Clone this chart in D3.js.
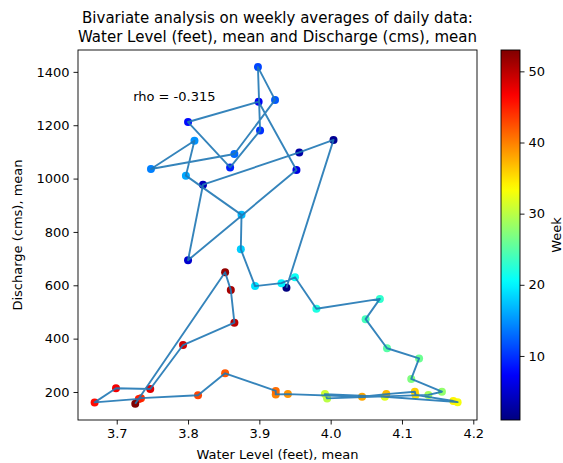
<!DOCTYPE html>
<html>
<head>
<meta charset="utf-8">
<script src="https://cdn.jsdelivr.net/npm/d3@7"></script>
<style>
  body { margin: 0; background: #fff; }
  text { font-family: "DejaVu Sans", sans-serif; fill: #000; }
</style>
</head>
<body>
<div id="chart"></div>
<script>
// weekly averages, week 1..53
const weeks = d3.range(1, 54);
const waterLevel = [
  3.938, 4.004, 3.956, 3.821, 3.800, 3.952, 3.899, 3.800, 3.859, 3.901,
  3.898, 3.922, 3.865, 3.748, 3.809, 3.797, 3.875, 3.874, 3.894, 3.931,
  3.950, 3.980, 4.069, 4.049, 4.079, 4.124, 4.113, 4.156, 4.137, 3.995,
  3.992, 4.076, 4.178, 4.172, 4.119, 4.118, 4.078, 4.044, 3.940, 3.923,
  3.923, 3.852, 3.814, 3.734, 3.731, 3.669, 3.699, 3.747, 3.793, 3.865,
  3.860, 3.852, 3.726
];
const discharge = [
  591, 1145, 1098, 977, 694, 1032, 1288, 1212, 1042, 1180,
  1418, 1295, 1092, 1036, 1142, 1011, 864, 735, 597, 608,
  630, 512, 549, 473, 364, 326, 249, 201, 189, 176,
  192, 182, 162, 166, 189, 201, 192, 182, 192, 191,
  204, 270, 188, 177, 174, 161, 214, 211, 376, 460,
  582, 649, 156
];
const xTicks = [3.7, 3.8, 3.9, 4.0, 4.1, 4.2];
const yTicks = [200, 400, 600, 800, 1000, 1200, 1400];
const weekTicks = [10, 20, 30, 40, 50];
const rhoLabel = "rho = -0.315";

const width = 563, height = 463;
const margin = { top: 50, right: 86, bottom: 43, left: 78 };
const plotW = width - margin.left - margin.right,
  plotH = height - margin.top - margin.bottom;
const fs = "13px";

// matplotlib jet colormap
function jet(t) {
  const clip = v => Math.max(0, Math.min(1, v));
  const r = clip(1.5 - Math.abs(4 * t - 3));
  const g = clip(1.5 - Math.abs(4 * t - 2));
  const b = clip(1.5 - Math.abs(4 * t - 1));
  return d3.rgb(r * 255, g * 255, b * 255).toString();
}
const color = d3.scaleSequential(jet).domain([1, 53]);

const svg = d3.select("#chart").append("svg")
  .attr("width", width).attr("height", height);

const g = svg.append("g")
  .attr("transform", `translate(${margin.left},${margin.top})`);

const x = d3.scaleLinear().domain([3.6457, 4.2052]).range([0, plotW]);
const y = d3.scaleLinear().domain([95, 1482]).range([plotH, 0]);

const data = weeks.map((w, i) => ({ week: w, wl: waterLevel[i], q: discharge[i] }));

// points (drawn under the line like matplotlib)
g.selectAll(".pt").data(data).enter().append("circle")
  .attr("class", "pt")
  .attr("cx", d => x(d.wl))
  .attr("cy", d => y(d.q))
  .attr("r", 4)
  .attr("fill", d => color(d.week));

const line = d3.line().x(d => x(d.wl)).y(d => y(d.q));
g.append("path").datum(data)
  .attr("d", line)
  .attr("fill", "none")
  .attr("stroke", "#1f77b4")
  .attr("stroke-opacity", 0.9)
  .attr("stroke-width", 1.9)
  .attr("stroke-linejoin", "round");

// axes
const xAxis = g.append("g").attr("transform", `translate(0,${plotH})`)
  .call(d3.axisBottom(x).tickValues(xTicks).tickFormat(d3.format(".1f")).tickSize(4.5).tickPadding(4));
const yAxis = g.append("g")
  .call(d3.axisLeft(y).tickValues(yTicks).tickFormat(d3.format("d")).tickSize(4.5).tickPadding(4));
[xAxis, yAxis].forEach(a => {
  a.select(".domain").remove();
  a.selectAll("text").style("font-size", fs).style("font-family", "DejaVu Sans");
  a.selectAll("line").attr("stroke", "#000").attr("stroke-width", 0.9);
});

g.append("rect").attr("width", plotW).attr("height", plotH)
  .attr("fill", "none").attr("stroke", "#000").attr("stroke-width", 0.9);

g.append("text").attr("x", x(3.723)).attr("y", y(1290))
  .style("font-size", fs).text(rhoLabel);

// titles
svg.append("text").attr("x", margin.left + plotW / 2).attr("y", 23)
  .attr("text-anchor", "middle").style("font-size", "15px")
  .text("Bivariate analysis on weekly averages of daily data:");
svg.append("text").attr("x", margin.left + plotW / 2).attr("y", 42)
  .attr("text-anchor", "middle").style("font-size", "15px")
  .text("Water Level (feet), mean and Discharge (cms), mean");
svg.append("text").attr("x", margin.left + plotW / 2).attr("y", 459)
  .attr("text-anchor", "middle").style("font-size", fs)
  .text("Water Level (feet), mean");
svg.append("text")
  .attr("transform", `translate(22,${margin.top + plotH / 2}) rotate(-90)`)
  .attr("text-anchor", "middle").style("font-size", fs)
  .text("Discharge (cms), mean");

// colorbar
const cbX = 501, cbW = 19;
const cbScale = d3.scaleLinear().domain([1, 53]).range([margin.top + plotH, margin.top]);
const defs = svg.append("defs");
const grad = defs.append("linearGradient").attr("id", "jetgrad")
  .attr("x1", 0).attr("y1", 1).attr("x2", 0).attr("y2", 0);
d3.range(0, 1.0001, 0.02).forEach(t => {
  grad.append("stop").attr("offset", t).attr("stop-color", jet(t));
});
svg.append("rect").attr("x", cbX).attr("y", margin.top)
  .attr("width", cbW).attr("height", plotH)
  .attr("fill", "url(#jetgrad)").attr("stroke", "#000").attr("stroke-width", 0.9);
const cbAxis = svg.append("g").attr("transform", `translate(${cbX + cbW},0)`)
  .call(d3.axisRight(cbScale).tickValues(weekTicks).tickSize(4.5).tickPadding(4));
cbAxis.select(".domain").remove();
cbAxis.selectAll("text").style("font-size", fs).style("font-family", "DejaVu Sans");
cbAxis.selectAll("line").attr("stroke", "#000").attr("stroke-width", 0.9);
svg.append("text")
  .attr("transform", `translate(561,${margin.top + plotH / 2}) rotate(-90)`)
  .attr("text-anchor", "middle").style("font-size", fs)
  .text("Week");
</script>
</body>
</html>
